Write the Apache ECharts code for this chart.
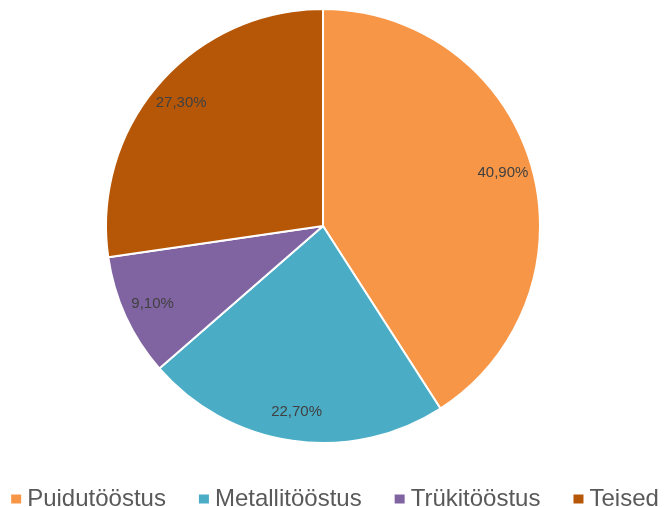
<!DOCTYPE html>
<html>
<head>
<meta charset="utf-8">
<script src="https://cdn.jsdelivr.net/npm/echarts@6/dist/echarts.min.js"></script>
<style>
html,body{margin:0;padding:0;background:#fff;}
#c{width:668px;height:507px;}
</style>
</head>
<body>
<div id="c"></div>
<script>
const categories = ['Puidutööstus', 'Metallitööstus', 'Trükitööstus', 'Teised'];
const values = [40.9, 22.7, 9.1, 27.3];
const colors = ['#F79646', '#4BACC6', '#8064A2', '#B65708'];

const chart = echarts.init(document.getElementById('c'));
const pieData = categories.map((n, i) => ({ name: n, value: values[i], itemStyle: { color: colors[i] } }));
const labelData = categories.map((n, i) => ({ name: n, value: values[i] }));
const fmt = p => p.value.toFixed(2).replace('.', ',') + '%';

chart.setOption({
  animation: false,
  backgroundColor: '#ffffff',
  legend: {
    data: categories,
    left: 'center',
    top: 482,
    icon: 'rect',
    itemWidth: 12,
    itemHeight: 11,
    itemGap: 31,
    textStyle: { fontFamily: 'Liberation Sans', fontSize: 24, color: '#595959' }
  },
  series: [
    {
      type: 'pie',
      center: [323, 226],
      radius: 217,
      startAngle: 90,
      clockwise: true,
      data: pieData,
      label: { show: false },
      labelLine: { show: false },
      itemStyle: { borderColor: '#ffffff', borderWidth: 2 },
      emphasis: { disabled: true }
    },
    {
      type: 'pie',
      center: [323, 226],
      radius: [152, 217],
      startAngle: 90,
      clockwise: true,
      silent: true,
      data: labelData,
      itemStyle: { color: 'rgba(0,0,0,0)' },
      label: {
        show: true,
        position: 'inside',
        formatter: fmt,
        fontFamily: 'Liberation Sans',
        fontSize: 15,
        color: '#404040'
      },
      labelLine: { show: false },
      emphasis: { disabled: true }
    }
  ]
});
</script>
</body>
</html>
